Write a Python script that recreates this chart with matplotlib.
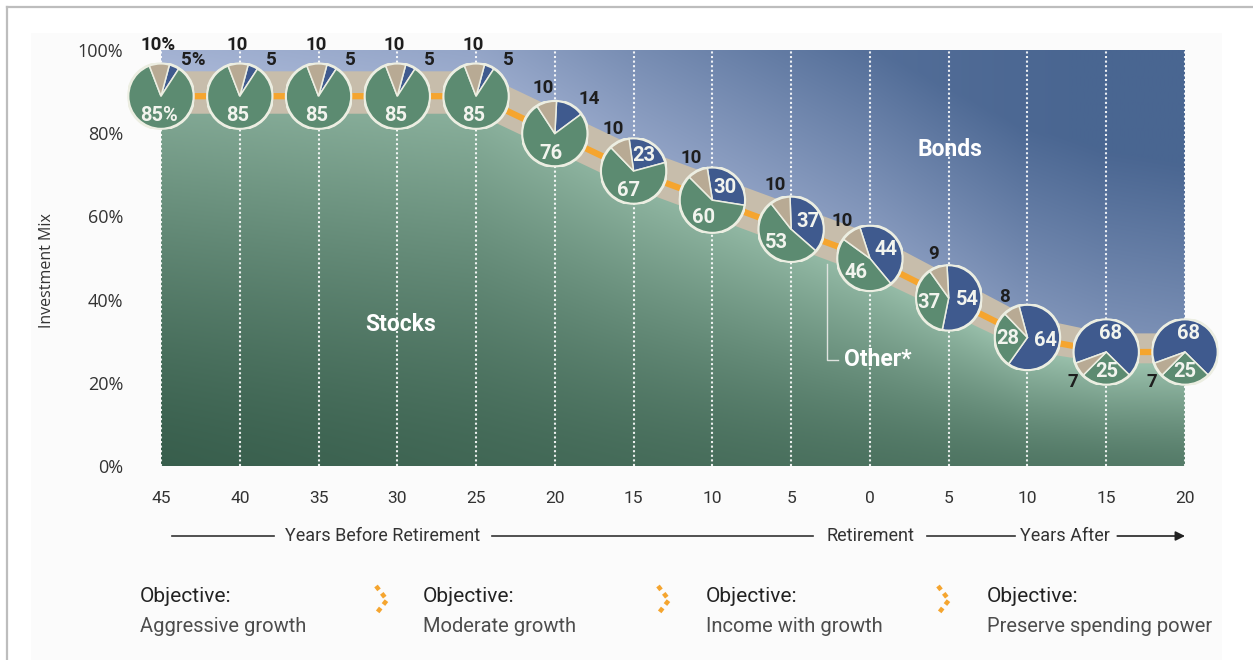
import numpy as np
import matplotlib
matplotlib.use("Agg")
import matplotlib.pyplot as plt
from matplotlib.lines import Line2D
from matplotlib.patches import Rectangle, Polygon

# ---------------- data ----------------
years = [-45, -40, -35, -30, -25, -20, -15, -10, -5, 0, 5, 10, 15, 20]
year_labels = ["45", "40", "35", "30", "25", "20", "15", "10", "5", "0", "5", "10", "15", "20"]
stocks = [85, 85, 85, 85, 85, 76, 67, 60, 53, 46, 37, 28, 25, 25]
bonds = [5, 5, 5, 5, 5, 14, 23, 30, 37, 44, 54, 64, 68, 68]
other = [10, 10, 10, 10, 10, 10, 10, 10, 10, 10, 9, 8, 7, 7]
ytick_vals = [0, 20, 40, 60, 80, 100]
objectives = ["Aggressive growth", "Moderate growth", "Income with growth", "Preserve spending power"]

# ---------------- style ----------------
# clockwise angle (deg from 12 o'clock) at which the bonds slice starts in each pie
pie_rotation = [15, 15, 15, 15, 15, 3, -8, -9, -2, -18, -3, -15, -110, -110]

W, H = 1253, 660
NARROW = ["Roboto", "DejaVu Sans"]
REG = ["Open Sans", "DejaVu Sans"]

C_PIE_G = "#5c8b71"
C_PIE_B = "#3f5a8e"
C_PIE_T = "#b8aa94"
C_EDGE = "#eceee2"
C_BAND = "#c7bdab"
C_ORANGE = "#f5a52f"
G_DARK = np.array([0.22, 0.37, 0.30])
G_LIGHT = np.array([0.60, 0.75, 0.67])
B_LIGHT = np.array([0.70, 0.75, 0.87])
B_DARK = np.array([0.29, 0.40, 0.57])

fig = plt.figure(figsize=(W / 100, H / 100), dpi=100)
fig.patch.set_facecolor("white")

# faint panel and frame
fig.add_artist(Rectangle((31 / W, 0), (1222 - 31) / W, 1 - 33 / H, transform=fig.transFigure,
                         facecolor="#fbfbfb", edgecolor="none", zorder=0))
fig.add_artist(Line2D([7 / W, 7 / W], [0, 1 - 7 / H], color="#bdbdbd", lw=1.6, transform=fig.transFigure))
fig.add_artist(Line2D([7 / W, 1], [1 - 7 / H, 1 - 7 / H], color="#bdbdbd", lw=1.6, transform=fig.transFigure))

ax = fig.add_axes([161 / W, 1 - 466 / H, 1024 / W, 416 / H])
ax.set_xlim(-45, 20)
ax.set_ylim(0, 100)
ax.patch.set_alpha(0)
for s in ax.spines.values():
    s.set_visible(False)

stocks_a = np.array(stocks, float)
other_a = np.array(other, float)
band_top = stocks_a + other_a

# gradient backgrounds
nx, ny = 500, 400
xs = np.linspace(-45, 20, nx)
ys = np.linspace(0, 100, ny)
X, Y = np.meshgrid(xs, ys)
xf = (X + 45) / 65.0
top_s = np.interp(xs, years, stocks_a)[None, :]
top_b = np.interp(xs, years, band_top)[None, :]

lg = np.clip(0.75 * np.clip(Y / top_s, 0, 1.2) ** 1.3 + 0.3 * xf, 0, 1)
green_img = G_DARK * (1 - lg)[..., None] + G_LIGHT * lg[..., None]
db = np.clip(0.45 * xf + 0.5 * np.clip((Y - top_b) / 45.0, 0, 1) + 0.1, 0, 1)
blue_img = B_LIGHT * (1 - db)[..., None] + B_DARK * db[..., None]

g_poly = Polygon(list(zip(years, stocks_a)) + [(20, 0), (-45, 0)], closed=True,
                 facecolor="none", edgecolor="none", transform=ax.transData)
b_poly = Polygon(list(zip(years, band_top - 0.3)) + [(20, 100), (-45, 100)], closed=True,
                 facecolor="none", edgecolor="none", transform=ax.transData)
ax.add_patch(g_poly)
ax.add_patch(b_poly)
im_g = ax.imshow(green_img, extent=[-45, 20, 0, 100], origin="lower", aspect="auto",
                 interpolation="bilinear", zorder=1)
im_g.set_clip_path(g_poly)
im_b = ax.imshow(blue_img, extent=[-45, 20, 0, 100], origin="lower", aspect="auto",
                 interpolation="bilinear", zorder=1)
im_b.set_clip_path(b_poly)

ax.fill_between(years, stocks_a - 0.2, band_top, color=C_BAND, lw=0, zorder=2)

# dotted year lines
ax.vlines(years, 0, 100, colors="white", linestyles=(0, (1, 1.2)), lw=1.5, alpha=0.9, zorder=2.5)

# orange glide path through pie centres
centers = stocks_a + other_a / 2 - 1.1
ax.plot(years, centers, color=C_ORANGE, lw=4.5, zorder=3, solid_capstyle="butt")

# axes ticks
ax.set_xticks(years)
ax.set_xticklabels(year_labels, family=NARROW, fontsize=12.5, color="#333333")
ax.set_yticks(ytick_vals)
ax.set_yticklabels([f"{v}%" for v in ytick_vals], family=REG, fontsize=13, color="#333333")
ax.tick_params(axis="x", length=0, pad=18)
ax.tick_params(axis="y", length=0, pad=27)
ax.set_ylabel("Investment Mix", family=REG, fontsize=11.5, color="#333333")
ax.yaxis.set_label_coords(-0.1035, 0.47)

# region labels
ax.text(-29.8, 34, "Stocks", family=NARROW, fontsize=16.5, fontweight="bold", color="white",
        ha="center", va="center", zorder=4)
ax.text(5.1, 76, "Bonds", family=NARROW, fontsize=16.5, fontweight="bold", color="white",
        ha="center", va="center", zorder=4)
ax.text(-1.65, 25.5, "Other*", family=NARROW, fontsize=16.5, fontweight="bold", color="white",
        ha="left", va="center", zorder=4)
ax.plot([-2.75, -2.75, -2.0], [48.5, 25.5, 25.5], color="#dfe3df", lw=1.0, zorder=4)

# bottom timeline
yline = (466 - 536) / 416
tr = ax.get_xaxis_transform()
for x0, x1 in [(-44.3, -37.8), (-24.0, -3.6), (3.6, 9.2)]:
    ax.plot([x0, x1], [yline, yline], color="#333333", lw=1.2, transform=tr, clip_on=False)
ax.annotate("", xy=(20.0, yline), xytext=(15.7, yline), xycoords=tr, textcoords=tr,
            arrowprops=dict(arrowstyle="-|>", color="#222222", lw=1.2, mutation_scale=14,
                            shrinkA=0, shrinkB=0))
for xc, s in [(-30.95, "Years Before Retirement"), (0.05, "Retirement"), (12.4, "Years After")]:
    ax.text(xc, yline, s, transform=tr, family=NARROW, fontsize=13, color="#333333",
            ha="center", va="center")

# objectives
obj_x = [140, 423, 706, 987]
for px, s in zip(obj_x, objectives):
    fig.text(px / W, 1 - 597 / H, "Objective:", family=NARROW, fontsize=15, color="#222222",
             ha="left", va="center")
    fig.text(px / W, 1 - 626 / H, s, family=NARROW, fontsize=14.5, color="#4d4d4d",
             ha="left", va="center")
for cx in [382, 664, 944]:
    fig.add_artist(Line2D([(cx - 6) / W, (cx + 5) / W, (cx - 6) / W],
                          [1 - 586 / H, 1 - 600 / H, 1 - 614 / H],
                          color=C_ORANGE, lw=3.2, linestyle=(0, (1.1, 1.0)),
                          transform=fig.transFigure))

# pies
R = 33.0
fig.canvas.draw()
for i, (x, s, b, o) in enumerate(zip(years, stocks, bonds, other)):
    px, py = ax.transData.transform((x, centers[i]))
    pa = fig.add_axes([(px - R) / W, (py - R) / H, 2 * R / W, 2 * R / H])
    rot = pie_rotation[i]
    pa.pie([b, s, o], colors=[C_PIE_B, C_PIE_G, C_PIE_T], startangle=90 - rot, counterclock=False,
           wedgeprops=dict(edgecolor=C_EDGE, linewidth=1.1))
    circ = plt.Circle((0, 0), 1, facecolor="none", edgecolor=C_EDGE, lw=2.0)
    pa.add_patch(circ)
    pa.set_xlim(-1, 1)
    pa.set_ylim(-1, 1)
    pa.set_aspect("equal")
    pa.axis("off")

    pct = "%" if i == 0 else ""
    ang_b0 = rot
    ang_b1 = rot + b * 3.6
    ang_s1 = ang_b1 + s * 3.6
    ang_o1 = ang_s1 + o * 3.6

    def pos(a, r):
        t = np.deg2rad(a)
        return r * np.sin(t), r * np.cos(t)

    # stocks
    sx, sy = pos((ang_b1 + ang_s1) / 2, 0.6)
    pa.text(sx, sy, f"{s}{pct}", family=NARROW, fontsize=14.5, fontweight="bold", color="#f2f4ee",
            ha="center", va="center")
    # bonds
    if b >= 20:
        bx, by = pos((ang_b0 + ang_b1) / 2, 0.56)
        pa.text(bx, by, f"{b}{pct}", family=NARROW, fontsize=14.5, fontweight="bold", color="#f2f4ee",
                ha="center", va="center")
    else:
        bx, by = pos((ang_b0 + ang_b1) / 2 + 17, 1.47)
        pa.text(bx, by, f"{b}{pct}", family=NARROW, fontsize=13.5, fontweight="bold", color="#1e1e1e",
                ha="center", va="center")
    # other
    om = (ang_s1 + ang_o1) / 2
    omn = ((om + 180) % 360) - 180
    if omn < -100:
        ox, oy = pos(om - 10, 1.36)
    else:
        ox, oy = pos(om, 1.55 if abs(omn) < 10 else 1.42)
    pa.text(ox, oy, f"{o}{pct}", family=NARROW, fontsize=13.5, fontweight="bold", color="#1e1e1e",
            ha="center", va="center")

fig.savefig("out.png", dpi=100, facecolor="white")
